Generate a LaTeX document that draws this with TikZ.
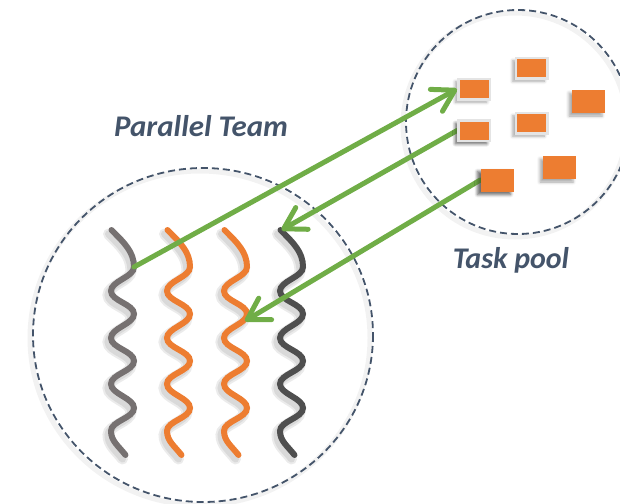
\documentclass[tikz,border=0pt]{standalone}
\usepackage{fontspec}
\setmainfont{Carlito}
\usetikzlibrary{arrows.meta,shadows.blur}

\definecolor{slate}{HTML}{44546A}
\definecolor{taskorange}{HTML}{ED7D31}
\definecolor{flowgreen}{HTML}{70AD47}
\definecolor{threadgray}{HTML}{767171}
\definecolor{threaddark}{HTML}{4F4F4F}
\definecolor{boxrim}{HTML}{E4E4E4}

% one wavy thread centred on x = #1
\newcommand{\wavepath}[1]{%
 ({#1-11},230) .. controls ({#1+2},243) and ({#1+11.5},252) .. ({#1+11.5},267)
 .. controls ({#1+11.5},277) and ({#1-11.5},281) .. ({#1-11.5},291)
 .. controls ({#1-11.5},301) and ({#1+11.5},304) .. ({#1+11.5},314)
 .. controls ({#1+11.5},324) and ({#1-11.5},328) .. ({#1-11.5},338)
 .. controls ({#1-11.5},348) and ({#1+11.5},351) .. ({#1+11.5},361)
 .. controls ({#1+11.5},371) and ({#1-11.5},374) .. ({#1-11.5},384)
 .. controls ({#1-11.5},394) and ({#1+11.5},398) .. ({#1+11.5},408)
 .. controls ({#1+11.5},418) and ({#1-11.5},421) .. ({#1-11.5},431)
 .. controls ({#1-11.5},441) and ({#1-4},446) .. ({#1+3},455)}

\tikzset{
  poolring/.style={draw=slate, line width=1.8pt, dash pattern=on 7pt off 4pt},
  ringhaze/.style={draw=black, opacity=0.05, line width=5pt},
  thread/.style={line width=6pt, line cap=round},
  threadhaze/.style={draw=black, line width=#1, line cap=round, opacity=0.08},
  flow/.style={draw=flowgreen, line width=5pt, line cap=round,
    -{Straight Barb[length=21pt,width=25pt,round]}},
  task/.style={fill=taskorange, inner sep=0pt, minimum width=33pt, minimum height=23pt,
    blur shadow={shadow xshift=-3pt, shadow yshift=-3pt, shadow blur radius=3pt, shadow opacity=35}},
  rimtask/.style={task, draw=boxrim, line width=2.5pt, minimum width=31.5pt, minimum height=20.5pt},
  caption/.style={text=slate, font=\fontsize{30}{34}\selectfont\bfseries\itshape, inner sep=0pt, anchor=base},
}

\begin{document}
\begin{tikzpicture}[x=1pt, y=-1pt]
\useasboundingbox (0,0) rectangle (620,503);

% dashed circles with a soft halo
\draw[ringhaze] (200,338) ellipse [x radius=170, y radius=167];
\draw[ringhaze] (515,125) circle [radius=112];
\draw[poolring] (203,335) ellipse [x radius=170, y radius=167];
\draw[poolring] (518,122) circle [radius=112];

% captions
\node[caption, xscale=1.03] (team) at (201,136) {Parallel Team};
\node[caption] (pool) at (511,268) {Task pool};

% threads: shadows first, then strokes
\foreach \cx in {122.5,178.5,235.5,291.5}{
  \draw[threadhaze=11pt, shift={(-3,4)}] \wavepath{\cx};
  \draw[threadhaze=7pt, shift={(-3,4)}] \wavepath{\cx};
}
\draw[thread, draw=threadgray] \wavepath{122.5};
\draw[thread, draw=taskorange] \wavepath{178.5};
\draw[thread, draw=taskorange] \wavepath{235.5};
\draw[thread, draw=threaddark] \wavepath{291.5};

% points where the flows meet the threads
\coordinate (t1) at (134,267);
\coordinate (t4) at (281.5,230);
\coordinate (t3) at (245,321);

% tasks
\node[rimtask] (b1) at (474,89)  {};
\node[rimtask] (b2) at (531.5,68) {};
\node[task]    (b3) at (588.5,101.5) {};
\node[rimtask] (b4) at (474,130.5) {};
\node[rimtask] (b5) at (531.5,123) {};
\node[task]    (b6) at (559.5,167.5) {};
\node[task]    (b7) at (497,180) {};

% flows between team and pool
\draw[flow] (t1) -- (b1.west);
\draw[flow] (b4.west) -- (t4);
\draw[flow] (b7.west) -- (t3);

% redraw tasks over the flow ends
\node[rimtask] at (474,130.5) {};
\node[task] at (497,180) {};
\end{tikzpicture}
\end{document}
